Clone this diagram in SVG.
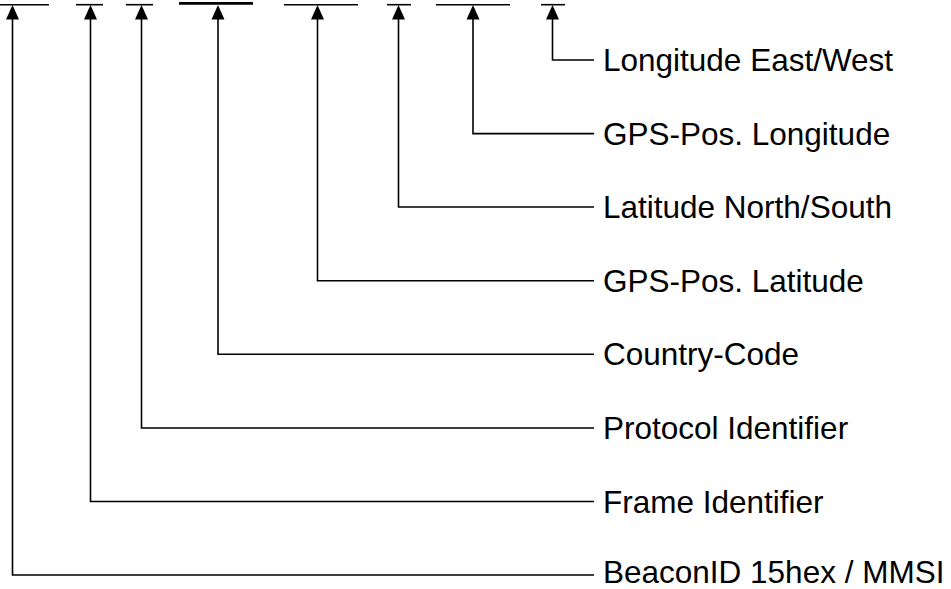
<svg xmlns="http://www.w3.org/2000/svg" width="951" height="589" viewBox="0 0 951 589">
<defs>
<style>
.bar{stroke:#000;stroke-width:1.6;fill:none}
.bar4{stroke:#000;stroke-width:2.8;fill:none}
.conn{stroke:#000;stroke-width:1.6;fill:none}
.ah{fill:#000}
.lbl{font-family:"Liberation Sans",Arial,sans-serif;font-size:31.5px;fill:#000}
</style>
</defs>
<rect width="951" height="589" fill="#fff"/>
<g id="bars">
<line class="bar" x1="0" y1="4.7" x2="49" y2="4.7"/>
<line class="bar" x1="76" y1="4.7" x2="103" y2="4.7"/>
<line class="bar" x1="126" y1="4.7" x2="153" y2="4.7"/>
<line class="bar4" x1="179" y1="3.4" x2="253" y2="3.4"/>
<line class="bar" x1="284" y1="4.7" x2="358" y2="4.7"/>
<line class="bar" x1="387" y1="4.7" x2="411" y2="4.7"/>
<line class="bar" x1="436" y1="4.7" x2="510" y2="4.7"/>
<line class="bar" x1="541" y1="4.7" x2="565" y2="4.7"/>
</g>
<g id="connectors">
<path class="conn" d="M552.5 18 V60 H594"/>
<path class="conn" d="M473 18 V133.6 H594"/>
<path class="conn" d="M398.5 18 V207 H594"/>
<path class="conn" d="M317.5 18 V280.7 H594"/>
<path class="conn" d="M218 18 V354.3 H594"/>
<path class="conn" d="M141.5 18 V428 H594"/>
<path class="conn" d="M90.5 18 V501.5 H594"/>
<path class="conn" d="M12.5 18 V575 H594"/>
<polygon class="ah" points="552.5,5 559,19.5 546,19.5"/>
<polygon class="ah" points="473,5 479.5,19.5 466.5,19.5"/>
<polygon class="ah" points="398.5,5 405,19.5 392,19.5"/>
<polygon class="ah" points="317.5,5 324,19.5 311,19.5"/>
<polygon class="ah" points="218,5 224.5,19.5 211.5,19.5"/>
<polygon class="ah" points="141.5,5 148,19.5 135,19.5"/>
<polygon class="ah" points="90.5,5 97,19.5 84,19.5"/>
<polygon class="ah" points="12.5,5 19,19.5 6,19.5"/>
</g>
<g id="n-lon-ew"><text class="lbl" x="603" y="71">Longitude East/West</text></g>
<g id="n-gps-lon"><text class="lbl" x="603" y="144.6">GPS-Pos. Longitude</text></g>
<g id="n-lat-ns"><text class="lbl" x="603" y="218">Latitude North/South</text></g>
<g id="n-gps-lat"><text class="lbl" x="603" y="291.7">GPS-Pos. Latitude</text></g>
<g id="n-country"><text class="lbl" x="603" y="365.3">Country-Code</text></g>
<g id="n-protocol"><text class="lbl" x="603" y="439">Protocol Identifier</text></g>
<g id="n-frame"><text class="lbl" x="603" y="512.5">Frame Identifier</text></g>
<g id="n-beacon"><text class="lbl" x="603" y="582.5">BeaconID 15hex / MMSI</text></g>
</svg>
